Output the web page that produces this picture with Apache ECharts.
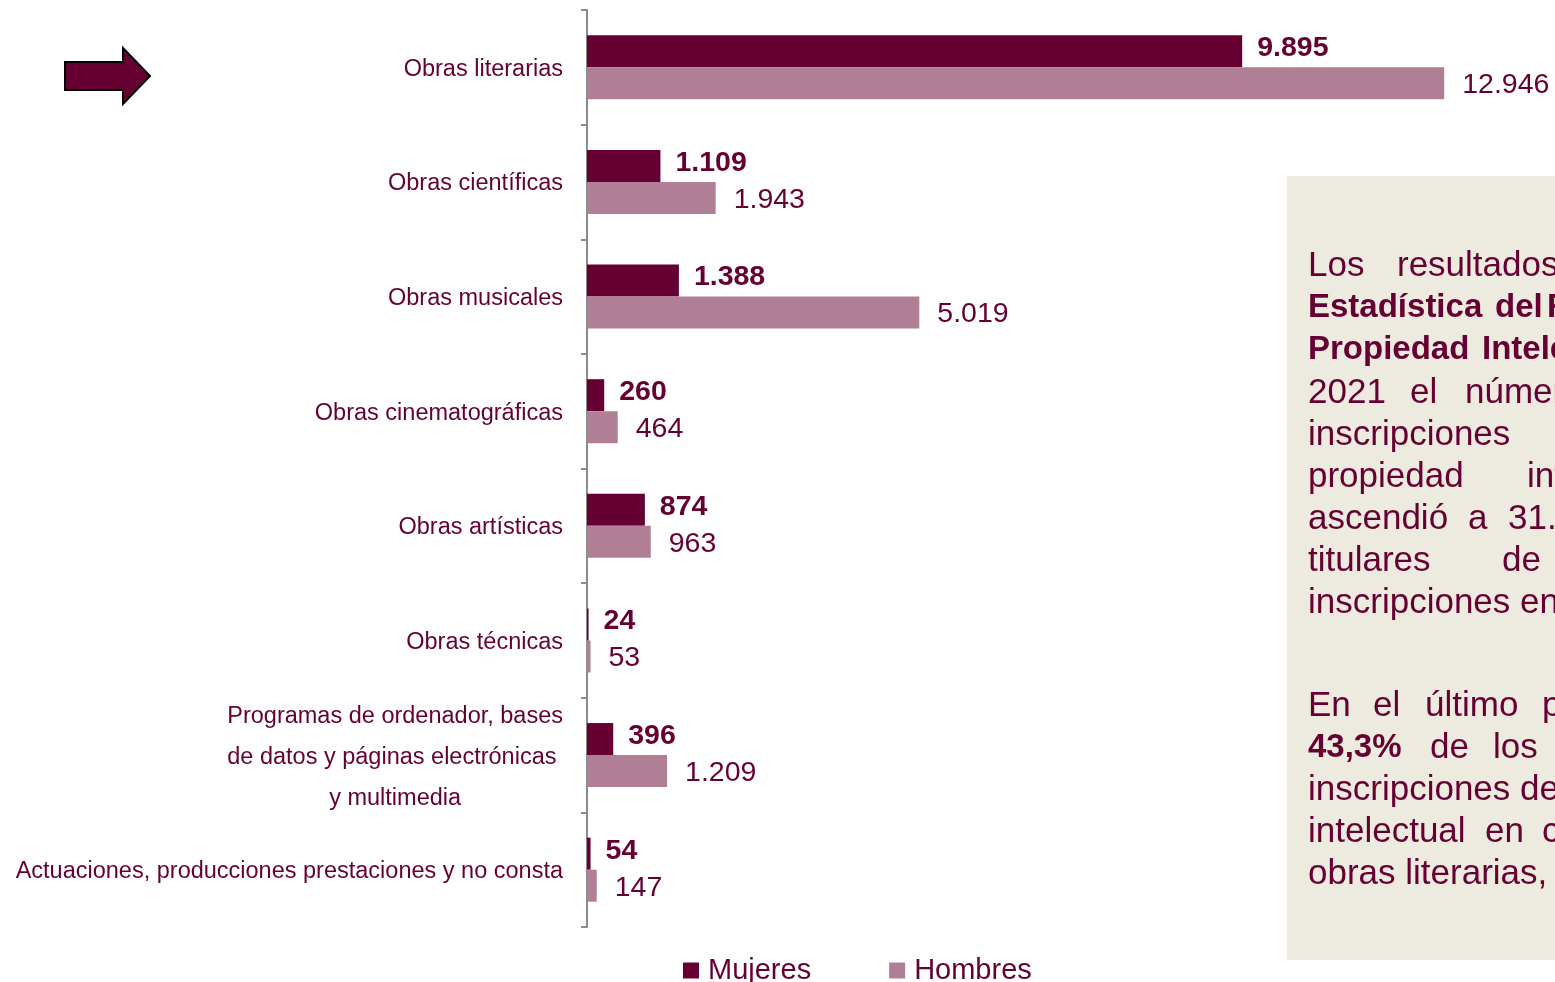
<!DOCTYPE html>
<html><head><meta charset="utf-8">
<script src="https://cdn.jsdelivr.net/npm/echarts@6/dist/echarts.min.js"></script>
<style>html,body{margin:0;padding:0;background:#fff;overflow:hidden}#c{width:1555px;height:982px}</style>
</head><body><div id="c"></div>
<script>
// ---- data ----
const categories = [
  'Obras literarias',
  'Obras científicas',
  'Obras musicales',
  'Obras cinematográficas',
  'Obras artísticas',
  'Obras técnicas',
  'Programas de ordenador, bases\nde datos y páginas electrónicas \ny multimedia',
  'Actuaciones, producciones prestaciones y no consta'
];
const seriesNames = ['Mujeres', 'Hombres'];
const mujeres = [9895, 1109, 1388, 260, 874, 24, 396, 54];
const hombres = [12946, 1943, 5019, 464, 963, 53, 1209, 147];

// ---- side text (layout: [x, text, bold]) ----
const boxLines = [
  {y: 265, w: [[1308, 'Los'], [1397, 'resultados']]},
  {y: 307, w: [[1308, 'Estadística', 1], [1495, 'del', 1], [1547, 'Registro', 1]]},
  {y: 349, w: [[1308, 'Propiedad', 1], [1482, 'Intelectual', 1]]},
  {y: 392, w: [[1308, '2021'], [1410, 'el'], [1465, 'número']]},
  {y: 434, w: [[1308, 'inscripciones']]},
  {y: 476, w: [[1308, 'propiedad'], [1527, 'intelectual']]},
  {y: 518, w: [[1308, 'ascendió'], [1468, 'a'], [1508, '31.']]},
  {y: 560, w: [[1308, 'titulares'], [1502, 'de']]},
  {y: 602, w: [[1308, 'inscripciones en']]},
  {y: 705, w: [[1308, 'En'], [1373, 'el'], [1425, 'último'], [1542, 'periodo']]},
  {y: 747, w: [[1308, '43,3%', 1], [1430, 'de'], [1493, 'los']]},
  {y: 789, w: [[1308, 'inscripciones de']]},
  {y: 831, w: [[1308, 'intelectual'], [1485, 'en'], [1542, 'corresponden']]},
  {y: 873, w: [[1308, 'obras literarias,']]}
];

const DARK = '#660033';
const LIGHT = '#B07F96';
const TXT = '#660033';
const FONT = '"Liberation Sans", Arial, sans-serif';

function fmt(v) { return String(v).replace(/\B(?=(\d{3})+(?!\d))/g, '.'); }

const graphics = [
  {type: 'rect', shape: {x: 1287, y: 176, width: 300, height: 784}, style: {fill: '#EDEADF'}, z: 0},
  {type: 'polygon', shape: {points: [[65, 62], [123, 62], [123, 48], [150, 76], [123, 104], [123, 90], [65, 90]]},
   style: {fill: DARK, stroke: '#000', lineWidth: 2}}
];
boxLines.forEach(line => {
  line.w.forEach(([x, t, b]) => {
    graphics.push({type: 'text', x: x, y: line.y + 1, z: 5,
      style: {text: t, fill: TXT, font: (b ? 'bold 33px ' : '35px ') + FONT,
        textAlign: 'left', textVerticalAlign: 'middle'}});
  });
});

const chart = echarts.init(document.getElementById('c'), null, {renderer: 'canvas'});
chart.setOption({
  backgroundColor: '#fff',
  animation: false,
  textStyle: {fontFamily: FONT},
  grid: {left: 587, right: 41, top: 10, bottom: 55, containLabel: false},
  legend: {
    data: seriesNames, left: 678, top: 951, itemWidth: 16, itemHeight: 16, itemGap: 78,
    icon: 'rect',
    textStyle: {fontSize: 29, color: TXT, fontFamily: FONT, padding: [0, 0, 0, 4]}
  },
  xAxis: {type: 'value', min: 0, max: 14000, show: false, splitLine: {show: false}},
  yAxis: {
    type: 'category', data: categories, inverse: true,
    axisLine: {show: true, lineStyle: {color: '#8C8C8C', width: 2}},
    axisTick: {show: true, length: 6, lineStyle: {color: '#8C8C8C', width: 2}},
    axisLabel: {
      margin: 24, fontSize: 23.5, color: TXT, fontFamily: FONT, padding: [4, 0, 0, 0],
      formatter: function (v) {
        if (v.indexOf('\n') < 0) return v;
        return v.split('\n').map(s => '{c|' + s + '}').join('\n');
      },
      rich: {c: {align: 'center', fontSize: 23.5, lineHeight: 41, color: TXT, fontFamily: FONT}}
    }
  },
  series: [
    {name: seriesNames[0], type: 'bar', data: mujeres, barWidth: 32, barGap: '0%',
     itemStyle: {color: DARK},
     label: {show: true, position: 'right', distance: 15, offset: [0, -3], formatter: p => fmt(p.value),
       fontSize: 28.5, fontWeight: 'bold', color: TXT, fontFamily: FONT}},
    {name: seriesNames[1], type: 'bar', data: hombres, barWidth: 32,
     itemStyle: {color: LIGHT},
     label: {show: true, position: 'right', distance: 18, offset: [0, 2], formatter: p => fmt(p.value),
       fontSize: 28.5, color: TXT, fontFamily: FONT}}
  ],
  graphic: graphics
});
</script>
</body></html>
